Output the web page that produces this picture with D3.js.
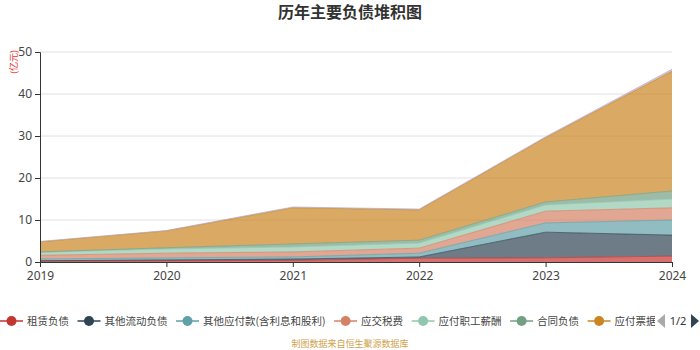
<!DOCTYPE html>
<html lang="zh">
<head>
<meta charset="UTF-8">
<title>历年主要负债堆积图</title>
<script src="https://d3js.org/d3.v7.min.js"></script>
<style>
  body { margin: 0; background: #fff; }
  svg { font-family: "Noto Sans CJK SC", "Noto Sans", sans-serif; }
</style>
</head>
<body>
<svg></svg>
<script>
const w = 700, h = 350;

// data (亿元)
const years = ['2019', '2020', '2021', '2022', '2023', '2024'];
const seriesNames = ['租赁负债', '其他流动负债', '其他应付款(含利息和股利)', '应交税费',
  '应付职工薪酬', '合同负债', '应付票据及应付账款', '短期借款'];
const zulin = [0.2, 0.3, 0.4, 0.9, 1.0, 1.4];
const qitaLiudong = [0.1, 0.2, 0.3, 0.3, 6.1, 5.0];
const qitaYingfu = [0.4, 0.5, 0.5, 0.9, 2.2, 3.6];
const yingjiao = [0.9, 1.1, 1.2, 1.2, 2.8, 2.9];
const xinchou = [0.7, 1.0, 1.2, 1.2, 1.5, 2.1];
const hetong = [0.1, 0.3, 0.7, 0.7, 0.7, 1.9];
const yingfuZhangkuan = [2.4, 4.0, 8.6, 7.2, 15.3, 28.5];
const duanqi = [0.1, 0.1, 0.2, 0.2, 0.2, 0.5];
const yTicks = [0, 10, 20, 30, 40, 50];

const colors = ['#c23531', '#2f4554', '#61a0a8', '#d48265', '#91c7ae', '#749f83', '#ca8622', '#b9abc6'];
const values = [zulin, qitaLiudong, qitaYingfu, yingjiao, xinchou, hetong, yingfuZhangkuan, duanqi];

const rows = years.map((y, i) => {
  const r = { year: y };
  seriesNames.forEach((n, k) => r[n] = values[k][i]);
  return r;
});

const svg = d3.select('svg').attr('width', w).attr('height', h);

const x = d3.scalePoint().domain(years).range([40, 672]);
const y = d3.scaleLinear().domain([0, 50]).range([262, 52]);

// title
svg.append('text')
  .attr('x', 350).attr('y', 18)
  .attr('text-anchor', 'middle')
  .attr('font-size', 16).attr('font-weight', 'bold')
  .attr('fill', '#333')
  .text('历年主要负债堆积图');

// unit
svg.append('text')
  .attr('transform', 'translate(17,62) rotate(-90)')
  .attr('text-anchor', 'middle')
  .attr('font-size', 9)
  .attr('fill', '#e5322d')
  .text('(亿元)');

// grid
svg.append('g').selectAll('line')
  .data(yTicks.filter(d => d > 0))
  .join('line')
  .attr('x1', 40).attr('x2', 672)
  .attr('y1', d => y(d)).attr('y2', d => y(d))
  .attr('stroke', '#e0e0e0');

// stacked areas
const stack = d3.stack().keys(seriesNames);
const layers = stack(rows);

const area = d3.area()
  .x(d => x(d.data.year))
  .y0(d => y(d[0]))
  .y1(d => y(d[1]));

const line = d3.line()
  .x(d => x(d.data.year))
  .y(d => y(d[1]));

svg.append('g').selectAll('path')
  .data(layers)
  .join('path')
  .attr('d', area)
  .attr('fill', (d, i) => colors[i])
  .attr('fill-opacity', 0.7);

svg.append('g').selectAll('path')
  .data(layers)
  .join('path')
  .attr('d', line)
  .attr('fill', 'none')
  .attr('stroke', (d, i) => colors[i])
  .attr('stroke-opacity', 0.7)
  .attr('stroke-width', 1);

// axes
const yAxis = svg.append('g')
  .attr('transform', 'translate(40,0)')
  .call(d3.axisLeft(y).tickValues(yTicks).tickSize(5).tickPadding(3));
yAxis.select('.domain').attr('stroke', '#333');
yAxis.selectAll('.tick line').attr('stroke', '#333');
yAxis.selectAll('text').attr('font-size', 12).attr('fill', '#444')
  .attr('font-family', '"Noto Sans", sans-serif');

const xAxis = svg.append('g')
  .attr('transform', 'translate(0,262)')
  .call(d3.axisBottom(x).tickSize(5).tickPadding(4));
xAxis.select('.domain').attr('stroke', '#333');
xAxis.selectAll('.tick line').attr('stroke', '#333');
xAxis.selectAll('text').attr('font-size', 12).attr('fill', '#444')
  .attr('font-family', '"Noto Sans", sans-serif');

// legend (scrolling, page 1 of 2)
svg.append('clipPath').attr('id', 'legclip')
  .append('rect').attr('x', 0).attr('y', 305).attr('width', 655).attr('height', 30);

const legend = svg.append('g').attr('clip-path', 'url(#legclip)');
let lx = 0;
seriesNames.forEach((n, i) => {
  const g = legend.append('g').attr('transform', `translate(${lx},321)`);
  g.append('line').attr('x1', 0).attr('x2', 23).attr('y1', 0).attr('y2', 0)
    .attr('stroke', colors[i]).attr('stroke-width', 1.5);
  g.append('circle').attr('cx', 11.5).attr('cy', 0).attr('r', 5)
    .attr('fill', colors[i]);
  const t = g.append('text').attr('x', 27).attr('y', 4)
    .attr('font-size', 10.5).attr('fill', '#444').text(n);
  lx += 27 + t.node().getComputedTextLength() + 8.5;
});

// pager
svg.append('path').attr('d', 'M657,321 L665,314 L665,328 Z').attr('fill', '#aaa');
svg.append('text').attr('x', 678).attr('y', 325).attr('text-anchor', 'middle')
  .attr('font-size', 11).attr('fill', '#333').attr('font-family', '"Noto Sans", sans-serif')
  .text('1/2');
svg.append('path').attr('d', 'M691,314 L699,321 L691,328 Z').attr('fill', '#2f4554');

// source
svg.append('text')
  .attr('x', 350).attr('y', 347)
  .attr('text-anchor', 'middle')
  .attr('font-size', 9)
  .attr('fill', '#d0a24c')
  .text('制图数据来自恒生聚源数据库');
</script>
</body>
</html>
